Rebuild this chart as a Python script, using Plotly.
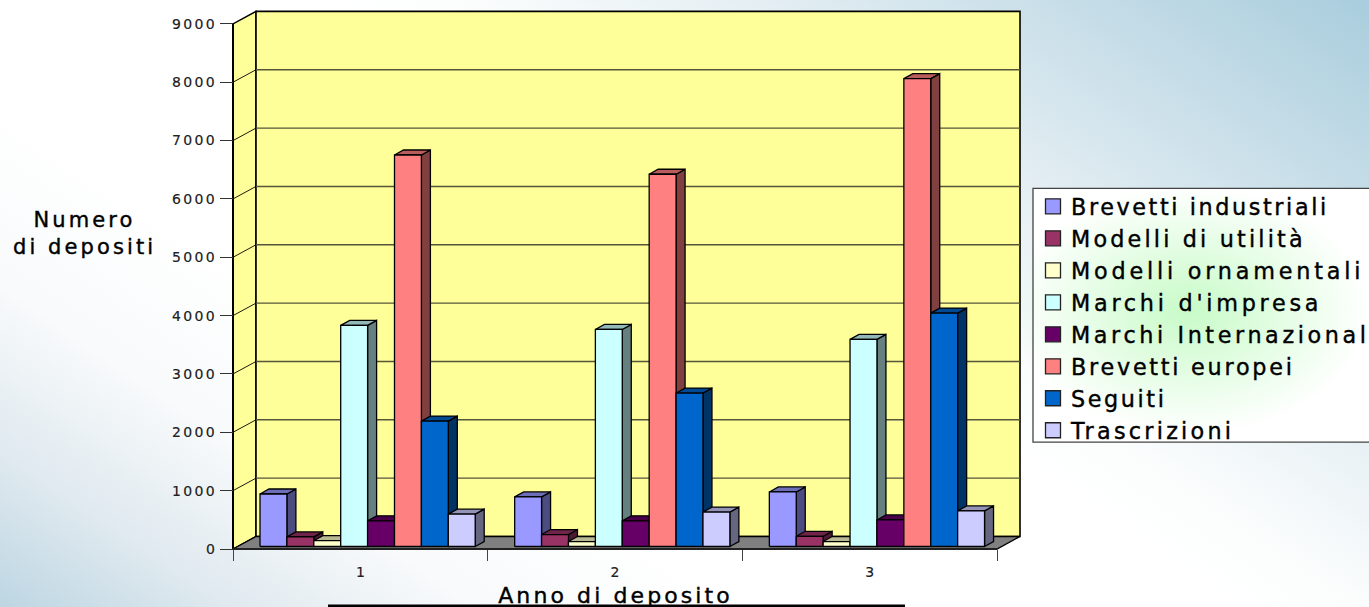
import plotly.graph_objects as go

categories = ["1", "2", "3"]
y_ticks = [0, 1000, 2000, 3000, 4000, 5000, 6000, 7000, 8000, 9000]

brevetti_industriali = [900, 850, 935]
modelli_utilita = [165, 205, 175]
modelli_ornamentali = [100, 85, 85]
marchi_impresa = [3790, 3720, 3550]
marchi_internazionali = [440, 440, 455]
brevetti_europei = [6710, 6380, 8020]
seguiti = [2150, 2630, 4000]
trascrizioni = [555, 590, 610]

series = [
    ("Brevetti industriali", brevetti_industriali, (153, 153, 255)),
    ("Modelli di utilità", modelli_utilita, (153, 51, 102)),
    ("Modelli ornamentali", modelli_ornamentali, (255, 255, 204)),
    ("Marchi d'impresa", marchi_impresa, (204, 255, 255)),
    ("Marchi Internazionali", marchi_internazionali, (102, 0, 102)),
    ("Brevetti europei", brevetti_europei, (255, 128, 128)),
    ("Seguiti", seguiti, (0, 102, 204)),
    ("Trascrizioni", trascrizioni, (204, 204, 255)),
]

W, H = 1369, 607
PAD = 4
PL, PR, PT, PB = 233, 1020, 11.5, 549
PX_PER_CAT = 254.67
PX_PER_UNIT = 58.4 / 1000
XMIN = 0.5
WALL_DX = 23 / PX_PER_CAT
WALL_DY = 12.5 / PX_PER_UNIT
XFRONT_END = 3.5
BAR_W = 26.9 / PX_PER_CAT
BAR_START = -0.394
BAR_BASE = 2.5 / PX_PER_UNIT
BAR_DX = 9 / PX_PER_CAT
BAR_DY = 5 / PX_PER_UNIT

# plot area is slightly larger than the box so the outer edges are not clipped
AL, AR, AT, AB = PL - PAD, PR + PAD, PT - PAD, PB + PAD
AW, AH = AR - AL, AB - AT
XRANGE = [XMIN - PAD / PX_PER_CAT, XMIN + (AR - PL) / PX_PER_CAT]
YRANGE = [-PAD / PX_PER_UNIT, (PB - AT) / PX_PER_UNIT]


def rgb(c, k=1.0):
    return "rgb(%d,%d,%d)" % tuple(round(v * k) for v in c)


fig = go.Figure()


def poly(xs, ys, fill=None, line="#000000", width=1.3):
    fig.add_trace(go.Scatter(
        x=xs, y=ys, mode="lines",
        fill="toself" if fill else "none", fillcolor=fill,
        line=dict(color=line, width=width), hoverinfo="skip",
        showlegend=False))


# walls and floor
poly([XMIN, XMIN + WALL_DX, XMIN + WALL_DX, XMIN, XMIN],
     [0, WALL_DY, 9000 + WALL_DY, 9000, 0], "#FFFF99", width=1.4)
poly([XMIN + WALL_DX, XFRONT_END + WALL_DX, XFRONT_END + WALL_DX, XMIN + WALL_DX, XMIN + WALL_DX],
     [WALL_DY, WALL_DY, 9000 + WALL_DY, 9000 + WALL_DY, WALL_DY], "#FFFF99", width=1.6)
poly([XMIN, XMIN + WALL_DX, XFRONT_END + WALL_DX, XFRONT_END, XMIN],
     [0, WALL_DY, WALL_DY, 0, 0], "#808080", width=1.3)

# grid lines
gx, gy, sx, sy = [], [], [], []
for t in y_ticks[1:-1]:
    gx += [XMIN + WALL_DX, XFRONT_END + WALL_DX, None]
    gy += [t + WALL_DY, t + WALL_DY, None]
    sx += [XMIN, XMIN + WALL_DX, None]
    sy += [t, t + WALL_DY, None]
poly(gx, gy, None, "#55553a", 1.4)
poly(sx, sy, None, "#000000", 0.9)

# bars, series by series so that each one covers the side of its neighbour
for idx, (name, values, col) in enumerate(series):
    fx, fy, tx, ty, rx, ry = [], [], [], [], [], []
    for c, v in enumerate(values):
        x0 = c + 1 + BAR_START + idx * BAR_W
        x1 = x0 + BAR_W
        y0 = BAR_BASE
        y1 = BAR_BASE + v
        fx += [x0, x1, x1, x0, x0, None]
        fy += [y0, y0, y1, y1, y0, None]
        tx += [x0, x0 + BAR_DX, x1 + BAR_DX, x1, x0, None]
        ty += [y1, y1 + BAR_DY, y1 + BAR_DY, y1, y1, None]
        rx += [x1, x1 + BAR_DX, x1 + BAR_DX, x1, x1, None]
        ry += [y0, y0 + BAR_DY, y1 + BAR_DY, y1, y0, None]
    poly(rx, ry, rgb(col, 0.5))
    poly(tx, ty, rgb(col, 0.72))
    poly(fx, fy, rgb(col))

# axis lines on the front plane
poly([XMIN, XMIN], [0, 9000], None, "#000000", 2)
poly([XMIN, XFRONT_END], [0, 0], None, "#222222", 1.8)

# legend entries
for name, values, col in series:
    fig.add_trace(go.Scatter(
        x=[None], y=[None], mode="markers", name=name,
        marker=dict(symbol="square", size=15, color=rgb(col),
                    line=dict(color="#222222", width=1.3))))


def paper_x(px):
    return (px - AL) / AW


def paper_y(py):
    return (AB - py) / AH


TEXT_FONT = "DejaVu Sans"
fig.update_layout(
    width=W, height=H, autosize=False,
    margin=dict(l=AL, r=W - AR, t=AT, b=H - AB, autoexpand=False, pad=0),
    paper_bgcolor="rgba(0,0,0,0)", plot_bgcolor="rgba(0,0,0,0)",
    font=dict(family=TEXT_FONT, color="#111111"),
    xaxis=dict(range=XRANGE, tickmode="array", anchor="free", position=PAD / AH,
               tickvals=[1, 2, 3], ticktext=categories, ticks="", showgrid=False,
               zeroline=False, showline=False, tickfont=dict(size=14, color="#222222"),
               ticklabelstandoff=13,
               minor=dict(tickmode="array", tickvals=[0.5, 1.5, 2.5, 3.5], ticks="outside",
                          ticklen=11, tickwidth=1.2, tickcolor="#444444", showgrid=False)),
    yaxis=dict(range=YRANGE, tickmode="array", tickvals=y_ticks, anchor="free", position=PAD / AW,
               ticktext=[str(t) for t in y_ticks], ticks="outside", ticklen=13,
               tickwidth=1.3, tickcolor="#333333", showgrid=False, zeroline=False,
               showline=False, tickfont=dict(size=14, color="#222222")),
    legend=dict(x=paper_x(1033), y=paper_y(185), xanchor="left", yanchor="top",
                bgcolor="rgba(0,0,0,0)", borderwidth=0,
                entrywidth=330, entrywidthmode="pixels",
                font=dict(size=22.3, family=TEXT_FONT, color="#000000"),
                itemclick=False, itemdoubleclick=False, tracegroupgap=0),
    annotations=[
        dict(text="Numero<br>di depositi", x=paper_x(84.5), y=paper_y(233),
             xref="paper", yref="paper", xanchor="center", yanchor="middle",
             showarrow=False, align="center", font=dict(size=21, color="#000000")),
        dict(text="Anno di deposito", x=paper_x(615), y=paper_y(596),
             xref="paper", yref="paper", xanchor="center", yanchor="middle",
             showarrow=False, font=dict(size=22, color="#000000")),
    ],
    shapes=[
        dict(type="rect", xref="paper", yref="paper",
             x0=paper_x(328), x1=paper_x(905), y0=paper_y(607), y1=paper_y(604.5),
             fillcolor="#000000", line=dict(width=0)),
        dict(type="rect", xref="paper", yref="paper",
             x0=paper_x(1033), x1=paper_x(1385), y0=paper_y(442), y1=paper_y(188),
             line=dict(color="#444444", width=1.3)),
    ],
)

post = """
document.documentElement.style.overflow='hidden';
document.documentElement.style.height='100%';
document.body.style.height='100%';
document.body.style.overflow='hidden';
document.body.style.margin='0';
document.body.style.background=[
 'radial-gradient(ellipse 180px 125px at 1190px 310px, rgba(190,250,190,0.85), rgba(190,250,190,0) 100%)',
 'linear-gradient(#ffffff,#ffffff) 1033px 188px / 336px 254px no-repeat',
 'linear-gradient(34deg, #bdd6e3 0%, #dfe9ef 10%, #f8fafb 21%, #ffffff 33%, #ffffff 54%, #fbfdfd 60%, #e4eef3 73%, #a9cddd 100%)'
].join(',');
function sp(sel,s,w){document.querySelectorAll(sel).forEach(function(t){t.style.letterSpacing=s+'px';t.style.stroke='#000';t.style.strokeWidth=w+'px';});}
sp('.annotation-text',3.1,0.4);
sp('.ytick text',2.4,0.15);
sp('.xtick text',0,0.15);
var ls=[2.6,3.17,3.8,3.75,3.6,2.75,2.6,3.25];
document.querySelectorAll('.legendtext').forEach(function(t,i){t.style.letterSpacing=ls[i]+'px';t.style.stroke='#000';t.style.strokeWidth='0.4px';t.setAttribute('x',38);});
document.querySelectorAll('.legend .scrollbox').forEach(function(g){g.removeAttribute('clip-path');});
"""
fig.write_html("out.html", post_script=post, config={"displayModeBar": False})
